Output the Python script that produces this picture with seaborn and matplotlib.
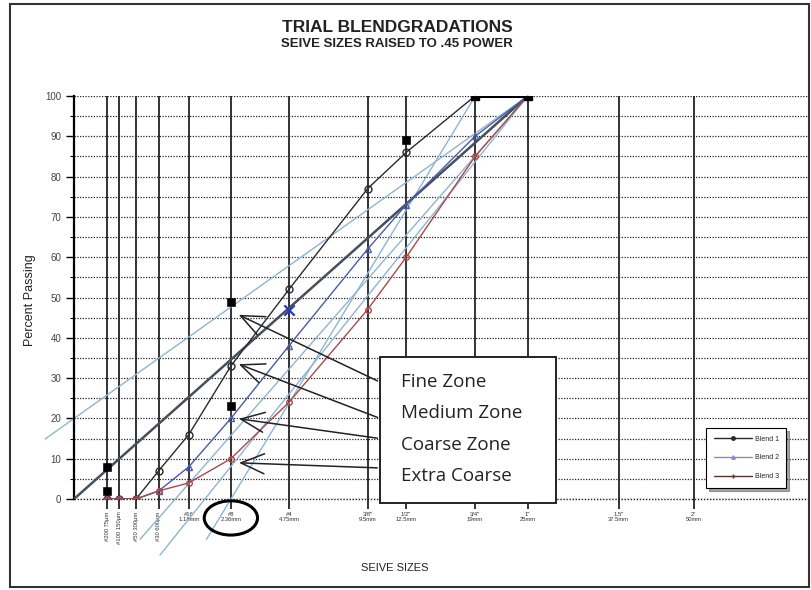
import numpy as np
import pandas as pd
import matplotlib
matplotlib.use("Agg")
import matplotlib.pyplot as plt
import seaborn as sns
from matplotlib.patches import Rectangle, Ellipse
from matplotlib.lines import Line2D

# ---------------- data ----------------
POWER = 0.45
sieve_mm = [0.075, 0.15, 0.3, 0.6, 1.18, 2.36, 4.75, 9.5, 12.5, 19, 25, 37.5, 50]
sieve_labels = ["#200 75µm", "#100 150µm", "#50 300µm", "#30 600µm",
                "#16\n1.18mm", "#8\n2.36mm", "#4\n4.75mm", "3/8\"\n9.5mm",
                "1/2\"\n12.5mm", "3/4\"\n19mm", "1\"\n25mm", "1.5\"\n37.5mm", "2\"\n50mm"]
blend_mm = [0.075, 0.15, 0.3, 0.6, 1.18, 2.36, 4.75, 9.5, 12.5, 19, 25]
blend1 = [0, 0, 0, 7, 16, 33, 52, 77, 86, 100, 100]
blend2 = [0, 0, 0, 2, 8, 20, 38, 62, 73, 90, 100]
blend3 = [0, 0, 0, 2, 4, 10, 24, 47, 60, 85, 100]
blend_names = ["Blend 1", "Blend 2", "Blend 3"]

control_mm = [0.075, 0.075, 2.36, 2.36, 12.5]
control_pct = [2, 8, 23, 49, 89]
control_top_mm = [19, 25]
control_top_pct = [100, 100]
restricted_mm = [4.75]
restricted_pct = [47]

maxdens_mm = [0.0, 25]
maxdens_pct = [0, 100]

# zone guide lines, x already in (mm^0.45) units
zone_x = [[-0.27, 4.257], [0.62, 4.257], [0.807, 4.257], [1.243, 3.764]]
zone_y = [[14.9, 100], [-10, 100], [-13.9, 100], [-10, 100]]

zone_names = ["Fine Zone", "Medium Zone", "Coarse Zone", "Extra Coarse"]
zone_target_pct = [46, 33.7, 20, 9]
zone_start_pct = [29, 20, 15, 7.7]

# ---------------- style ----------------
sns.set_theme(style="white")
plt.rcParams["font.family"] = ["Liberation Sans", "DejaVu Sans"]

W, H = 811, 590
fig = plt.figure(figsize=(W / 100, H / 100), dpi=100)
ax = fig.add_axes([74 / W, (H - 499) / H, 734 / W, 403 / H])

def px(v):
    return np.asarray(v, dtype=float) ** POWER

ax.set_xlim(0, 734 / 106.6)
ax.set_ylim(0, 100)

# grid
ax.set_yticks(np.arange(0, 101, 10))
ax.set_yticks(np.arange(5, 100, 10), minor=True)
ax.yaxis.grid(True, which="both", linestyle=(0, (1, 1.2)), color="#222222", lw=0.9)
ax.axhline(0, linestyle=(0, (1, 1.2)), color="#222222", lw=1.0, clip_on=False, zorder=1)
ax.set_xticks(px(sieve_mm))
ax.set_xticklabels(sieve_labels)
ax.xaxis.grid(True, linestyle="-", color="#333333", lw=1.4)
ax.set_axisbelow(True)

for s in ["top", "right", "bottom"]:
    ax.spines[s].set_visible(False)
ax.spines["left"].set_color("black")
ax.spines["left"].set_linewidth(1.6)

ax.tick_params(axis="y", which="major", left=True, length=6, width=1, color="black",
               labelsize=7, pad=3, labelcolor="#444444")
ax.tick_params(axis="y", which="minor", left=True, length=3, width=0.8, color="black")
ax.tick_params(axis="x", bottom=True, length=7, width=1.4, color="#333333",
               labelsize=4.2, pad=2, labelcolor="#333333")
for i, lab in enumerate(ax.get_xticklabels()):
    if i < 4:
        lab.set_rotation(90)
        lab.set_va("top")
        lab.set_ha("center")
    else:
        lab.set_ha("center")

# zone guide lines (light blue)
for zx, zy in zip(zone_x, zone_y):
    ax.plot(zx, zy, color="#8fb4d3", lw=1.0, clip_on=False, zorder=2)

# maximum density line
ax.plot(px(maxdens_mm), maxdens_pct, color="#44505c", lw=1.8, zorder=3)

# blends
df = pd.DataFrame({
    "x": np.concatenate([px(blend_mm)] * 3),
    "pct": blend1 + blend2 + blend3,
    "blend": sum([[n] * len(blend_mm) for n in blend_names], []),
})
colors = {"Blend 1": "#2a2a2a", "Blend 2": "#4a5aa8", "Blend 3": "#a84a4a"}
markers = {"Blend 1": "o", "Blend 2": "^", "Blend 3": "o"}
msize = {"Blend 1": 5, "Blend 2": 5, "Blend 3": 4}
for n in blend_names:
    sub = df[df["blend"] == n]
    sns.lineplot(data=sub, x="x", y="pct", ax=ax, color=colors[n], lw=1.0,
                 marker=markers[n], markersize=msize[n], markerfacecolor="none",
                 markeredgecolor=colors[n], markeredgewidth=1.0, legend=False,
                 zorder=4, sort=False)

# control points
sns.scatterplot(x=px(control_mm), y=control_pct, ax=ax, marker="s", s=30,
                color="black", edgecolor="black", zorder=5, legend=False)
ax.plot(px(control_top_mm), control_top_pct, color="black", lw=2.2, marker="s",
        markersize=6, zorder=5)
sns.scatterplot(x=px(restricted_mm), y=restricted_pct, ax=ax, marker="x", s=55,
                color="#2a3ac0", linewidth=1.6, zorder=5, legend=False)

# annotation box with arrows
bx0, bx1 = (380 - 74) / 106.6, (556 - 74) / 106.6
by0, by1 = -1.0, 35.2
ax.add_patch(Rectangle((bx0, by0), bx1 - bx0, by1 - by0, facecolor="white",
                       edgecolor="#222222", lw=1.4, zorder=8, clip_on=False))
text_y = [(499 - 382) / 4.03, (499 - 413) / 4.03, (499 - 445) / 4.03, (499 - 476) / 4.03]
for name, ty, tgt, st in zip(zone_names, text_y, zone_target_pct, zone_start_pct):
    ax.text(bx0 + 0.195, ty, name, fontsize=13.5, family=["Open Sans", "DejaVu Sans"],
            color="#222222", va="center", ha="left", zorder=9, clip_on=False)
    ax.annotate("", xy=(px(2.36) + 0.05, tgt), xytext=(bx0, st),
                arrowprops=dict(arrowstyle="->,head_length=1.4,head_width=0.6",
                                color="#222222", lw=1.1),
                zorder=7, annotation_clip=False)

# circle around 2.36mm label
ax.add_patch(Ellipse((px(2.36), -4.7), 0.5, 8.5, transform=ax.transData,
                     facecolor="none", edgecolor="black", lw=2.2, clip_on=False, zorder=9))

# labels & titles
ax.set_xlabel("")
ax.set_ylabel("")
fig.text(30 / W, 1 - 300 / H, "Percent Passing", rotation=90, fontsize=9,
         color="#222222", ha="center", va="center")
fig.text(395 / W, 1 - 568 / H, "SEIVE SIZES", fontsize=8, color="#222222",
         ha="center", va="center")
fig.text(397 / W, 1 - 27 / H, "TRIAL BLENDGRADATIONS", fontsize=12.5,
         fontweight="bold", color="#222222", ha="center", va="center")
fig.text(397 / W, 1 - 44 / H, "SEIVE SIZES RAISED TO .45 POWER", fontsize=9.5,
         fontweight="bold", color="#222222", ha="center", va="center")

# legend
handles = [Line2D([0], [0], color="#2a2a2a", lw=1, marker="o", markersize=2.5),
           Line2D([0], [0], color="#8a8ad0", lw=1, marker="^", markersize=2.5),
           Line2D([0], [0], color="#5a3030", lw=1, marker="+", markersize=3)]
leg = fig.legend(handles, blend_names, loc="upper left",
                 bbox_to_anchor=(706 / W, 1 - 428 / H), borderaxespad=0, fontsize=5,
                 frameon=True, fancybox=False, shadow=True, edgecolor="black",
                 framealpha=1, handlelength=5.5, borderpad=1.1, labelspacing=1.7,
                 handletextpad=0.4)
leg.get_frame().set_linewidth(0.8)

# outer frame of the chart
fig.patches.append(Rectangle((10 / W, 3 / H), (W - 12) / W, (H - 7) / H,
                             transform=fig.transFigure, fill=False,
                             edgecolor="#333333", lw=1.5))

fig.savefig("out.png", dpi=100)
